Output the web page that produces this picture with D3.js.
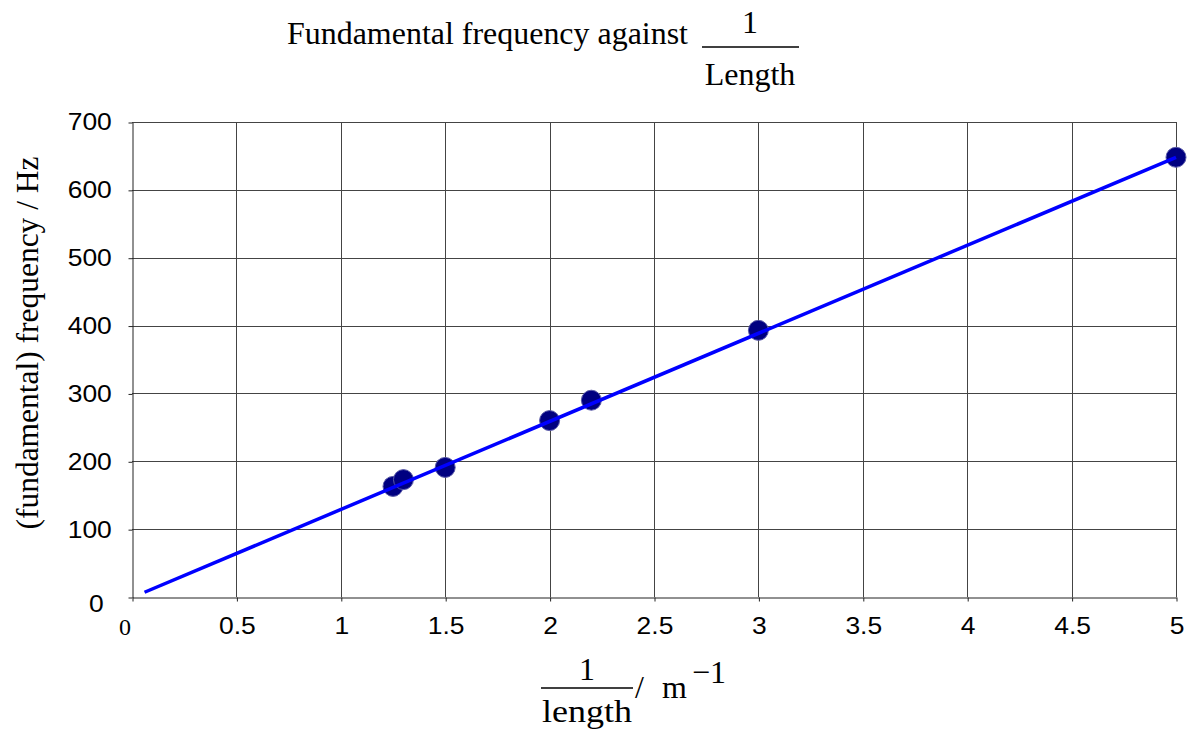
<!DOCTYPE html>
<html>
<head>
<meta charset="utf-8">
<script src="https://cdn.jsdelivr.net/npm/d3@7"></script>
<style>
  body { margin: 0; background: #fff; }
  .serif { font-family: "Liberation Serif", "Times New Roman", serif; }
  .sans { font-family: "Liberation Sans", Arial, sans-serif; }
</style>
</head>
<body>
<div id="chart-container"></div>
<script>
// Data
const invLength = [1.25, 1.3, 1.5, 2, 2.2, 3, 5];       // 1/length, m^-1
const frequency = [163, 173, 191, 260, 290, 393, 648];  // Hz
const fitX = [0.06, 5];     // best-fit line end points
const fitY = [7, 648];
const xTicks = [0, 0.5, 1, 1.5, 2, 2.5, 3, 3.5, 4, 4.5, 5];
const yTicks = [0, 100, 200, 300, 400, 500, 600, 700];

// Dimensions and margins
const W = 1192, H = 731;
const margin = {top: 122, right: 16, bottom: 134, left: 132};
const width = W - margin.left - margin.right;
const height = H - margin.top - margin.bottom;

const x = d3.scaleLinear().domain([0, 5]).range([0, width]);
const y = d3.scaleLinear().domain([0, 700]).range([height, 0]);

const root = d3.select("#chart-container")
  .append("svg")
    .attr("width", W)
    .attr("height", H);

const svg = root.append("g")
    .attr("transform", `translate(${margin.left}, ${margin.top})`);

// Gridlines (vertical and horizontal)
svg.selectAll(".xGrid")
  .data(xTicks.slice(1))
  .join("line")
  .attr("x1", d => Math.round(x(d)) + 0.5)
  .attr("x2", d => Math.round(x(d)) + 0.5)
  .attr("y1", 0)
  .attr("y2", height)
  .attr("stroke", "#444")
  .attr("stroke-width", 1);

svg.selectAll(".yGrid")
  .data(yTicks.slice(1))
  .join("line")
  .attr("x1", 0)
  .attr("x2", width)
  .attr("y1", d => Math.round(y(d)) + 0.5)
  .attr("y2", d => Math.round(y(d)) + 0.5)
  .attr("stroke", "#444")
  .attr("stroke-width", 1);

// X axis
const xAxis = svg.append("g")
  .attr("transform", `translate(0.5, ${height + 0.5})`)
  .call(d3.axisBottom(x)
    .tickValues(xTicks)
    .tickFormat(d3.format("~g"))
    .tickSize(4)
    .tickSizeOuter(0)
    .tickPadding(16));
xAxis.select(".domain").attr("stroke", "#222");
xAxis.selectAll(".tick line").attr("stroke", "#222");
xAxis.selectAll(".tick text")
  .attr("class", "sans")
  .attr("transform", "scale(1.15,1)")
  .style("font-size", "23px")
  .attr("fill", "#000");
// the zero label is set in a serif face and sits a little to the left
xAxis.selectAll(".tick text").filter(d => d === 0)
  .attr("class", "serif")
  .attr("transform", null)
  .attr("x", -8)
  .style("font-size", "24px");

// Y axis
const yAxis = svg.append("g")
  .attr("transform", `translate(0.5, 0.5)`)
  .call(d3.axisLeft(y)
    .tickValues(yTicks)
    .tickSize(4)
    .tickSizeOuter(0)
    .tickPadding(14));
yAxis.select(".domain").attr("stroke", "#222");
yAxis.selectAll(".tick line").attr("stroke", "#222");
yAxis.selectAll(".tick text")
  .attr("class", "sans")
  .attr("transform", "scale(1.15,1)")
  .style("font-size", "23px")
  .attr("fill", "#000");
yAxis.selectAll(".tick text").filter(d => d === 0)
  .attr("x", -25)
  .attr("dy", "0.62em");

// Data markers
svg.selectAll(".pt")
  .data(invLength.map((d, i) => ({x: d, y: frequency[i]})))
  .join("circle")
  .attr("cx", d => x(d.x))
  .attr("cy", d => y(d.y))
  .attr("r", 10)
  .attr("fill", "#000080")
  .attr("stroke", "#5a5aa8")
  .attr("stroke-width", 1);

// Best-fit line, drawn over the markers
const line = d3.line()
  .x(d => x(d[0]))
  .y(d => y(d[1]));

svg.append("path")
  .datum(fitX.map((d, i) => [d, fitY[i]]))
  .attr("fill", "none")
  .attr("stroke", "#0000ff")
  .attr("stroke-width", 3.5)
  .attr("d", line);

// Title: "Fundamental frequency against 1/Length"
const title = root.append("g").attr("class", "serif").attr("fill", "#000");
title.append("text")
  .attr("x", 287).attr("y", 44)
  .attr("textLength", 401).attr("lengthAdjust", "spacingAndGlyphs")
  .style("font-size", "32px")
  .text("Fundamental frequency against");
title.append("text")
  .attr("x", 750).attr("y", 33)
  .attr("text-anchor", "middle")
  .style("font-size", "32px")
  .text("1");
title.append("line")
  .attr("x1", 702).attr("x2", 799)
  .attr("y1", 47).attr("y2", 47)
  .attr("stroke", "#000").attr("stroke-width", 1.6);
title.append("text")
  .attr("x", 750).attr("y", 85)
  .attr("text-anchor", "middle")
  .style("font-size", "32px")
  .text("Length");

// Y axis label
root.append("text")
  .attr("class", "serif")
  .attr("transform", "translate(38, 343) rotate(-90)")
  .attr("text-anchor", "middle")
  .attr("textLength", 373).attr("lengthAdjust", "spacingAndGlyphs")
  .style("font-size", "32px")
  .text("(fundamental) frequency / Hz");

// X axis label: 1/length / m^-1
const xLab = root.append("g").attr("class", "serif").attr("fill", "#000");
xLab.append("text")
  .attr("x", 587).attr("y", 680)
  .attr("text-anchor", "middle")
  .style("font-size", "32px")
  .text("1");
xLab.append("line")
  .attr("x1", 541).attr("x2", 633)
  .attr("y1", 688).attr("y2", 688)
  .attr("stroke", "#000").attr("stroke-width", 1.6);
xLab.append("text")
  .attr("x", 587).attr("y", 722)
  .attr("text-anchor", "middle")
  .attr("textLength", 90).attr("lengthAdjust", "spacingAndGlyphs")
  .style("font-size", "32px")
  .text("length");
xLab.append("text")
  .attr("x", 635).attr("y", 698)
  .style("font-size", "32px")
  .text("/");
xLab.append("text")
  .attr("x", 662).attr("y", 698)
  .style("font-size", "32px")
  .text("m");
xLab.append("text")
  .attr("x", 692).attr("y", 683)
  .style("font-size", "32px")
  .text("\u22121");
</script>
</body>
</html>
